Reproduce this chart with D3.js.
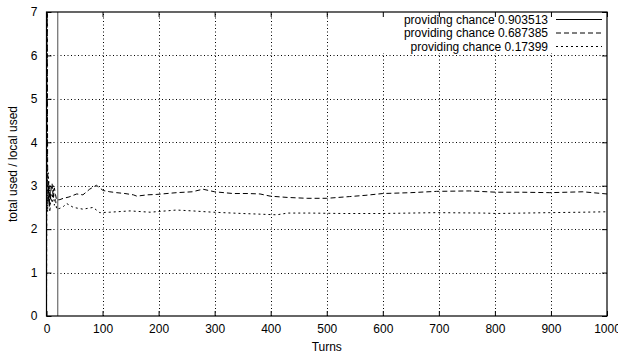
<!DOCTYPE html>
<html><head><meta charset="utf-8">
<script src="https://cdn.jsdelivr.net/npm/d3@7"></script>
<style>body{margin:0;background:#fff}svg{display:block}text{font-family:"Liberation Sans",Arial,sans-serif;font-size:12px;fill:#000}</style>
</head><body><svg id="c" width="618" height="354"></svg>
<script>
const xTicks=[0,100,200,300,400,500,600,700,800,900,1000];
const yTicks=[0,1,2,3,4,5,6,7];
const seriesNames=["providing chance 0.903513","providing chance 0.687385","providing chance 0.17399"];
// series 1 (solid)
const turnsA=[20,20];
const valuesA=[0,7.5];
// series 2 (dashed)
const turnsB=[0,1,2,3,4,5,6,7,8,10,12,14,16,18,24,30,40,54,65,77,89,101,113,125,140,155,161,180,197,232,260,279,300,333,360,381,399,430,465,500,541,570,600,650,696,755,803,850,898,957,1000];
const valuesB=[0,8,3.5,2.6,3.1,2.5,3.0,2.7,2.9,3.05,2.7,2.95,2.8,2.67,2.68,2.71,2.74,2.81,2.79,2.92,3.01,2.89,2.86,2.84,2.82,2.79,2.76,2.79,2.80,2.84,2.86,2.92,2.86,2.82,2.82,2.81,2.76,2.73,2.71,2.71,2.75,2.78,2.82,2.84,2.87,2.88,2.85,2.85,2.84,2.86,2.81];
// series 3 (dotted)
const turnsC=[0,1,2,3,4,5,6,8,10,12,14,16,18,24,30,36,48,65,83,95,113,149,185,232,260,297,350,411,430,470,530,600,696,780,803,850,898,957,1000];
const valuesC=[0,7.5,2.4,3.3,2.7,2.9,2.4,2.8,2.6,3.0,2.55,2.7,2.46,2.48,2.52,2.59,2.5,2.46,2.5,2.38,2.39,2.42,2.39,2.44,2.42,2.39,2.36,2.33,2.37,2.37,2.36,2.36,2.38,2.37,2.36,2.37,2.38,2.39,2.40];

const svg=d3.select("#c");
const L=46.5,R=607,T=12,B=316;
const x=d3.scaleLinear().domain([0,1000]).range([L,R]);
const y=d3.scaleLinear().domain([0,7]).range([B,T]);
const keyBottom=53, keyLeft=378;

// grid
const g=svg.append("g").attr("stroke","#000").attr("stroke-width",1).attr("stroke-dasharray","1,2.5").attr("fill","none");
xTicks.filter(v=>v>0&&v<1000).forEach(v=>{
  const px=Math.round(x(v))+0.5;
  const top = px>keyLeft ? keyBottom : T;
  g.append("line").attr("x1",px).attr("x2",px).attr("y1",B).attr("y2",top);
});
yTicks.filter(v=>v>0&&v<7).forEach(v=>{
  const py=Math.round(y(v))+0.5;
  g.append("line").attr("x1",L).attr("x2",R).attr("y1",py).attr("y2",py);
});

// clip
svg.append("clipPath").attr("id","cp").append("rect").attr("x",L).attr("y",T).attr("width",R-L).attr("height",B-T);

const line=d3.line().x(d=>x(d[0])).y(d=>y(d[1]));
const mk=(t,v)=>t.map((tt,i)=>[tt,v[i]]);
const pg=svg.append("g").attr("clip-path","url(#cp)").attr("fill","none");
pg.append("path").datum(mk(turnsA,valuesA)).attr("d",line).attr("stroke","#777").attr("stroke-width",1.3);
pg.append("path").datum(mk(turnsB,valuesB)).attr("d",line).attr("stroke","#000").attr("stroke-width",1).attr("stroke-dasharray","5,3");
pg.append("path").datum(mk(turnsC,valuesC)).attr("d",line).attr("stroke","#000").attr("stroke-width",1).attr("stroke-dasharray","2,3");

// border
svg.append("rect").attr("x",L).attr("y",T).attr("width",R-L).attr("height",B-T).attr("fill","none").attr("stroke","#000").attr("stroke-width",1.2);

// axes with inward ticks
const xa=d3.axisBottom(x).tickValues(xTicks).tickSize(-5).tickPadding(8).tickFormat(d3.format("d"));
const ya=d3.axisLeft(y).tickValues(yTicks).tickSize(-5).tickPadding(9).tickFormat(d3.format("d"));
const gx=svg.append("g").attr("transform",`translate(0,${B})`).call(xa);
const gy=svg.append("g").attr("transform",`translate(${L},0)`).call(ya);
const gx2=svg.append("g").attr("transform",`translate(0,${T})`).call(d3.axisTop(x).tickValues(xTicks).tickSize(-5).tickFormat(""));
const gy2=svg.append("g").attr("transform",`translate(${R},0)`).call(d3.axisRight(y).tickValues(yTicks).tickSize(-5).tickFormat(""));
[gx,gy,gx2,gy2].forEach(a=>{a.select(".domain").remove();a.selectAll("line").attr("stroke","#000");a.selectAll("text").attr("font-size",12).attr("font-family","Liberation Sans, Arial, sans-serif").attr("fill","#000");});

// labels
svg.append("text").attr("x",(L+R)/2).attr("y",351).attr("text-anchor","middle").text("Turns");
svg.append("text").attr("transform",`translate(17,${(T+B)/2}) rotate(-90)`).attr("text-anchor","middle").text("total used / local used");

// legend
const dashes=[null,"5,3","2,3"];
const colors=["#000","#000","#000"];
seriesNames.forEach((n,i)=>{
  const yy=19+i*13.5;
  svg.append("text").attr("x",548).attr("y",yy+4.5).attr("text-anchor","end").attr("font-size",12).text(n);
  const ln=svg.append("line").attr("x1",556).attr("x2",602).attr("y1",yy+0.5).attr("y2",yy+0.5).attr("stroke",colors[i]).attr("stroke-width",1);
  if(dashes[i]) ln.attr("stroke-dasharray",dashes[i]);
});
</script></body></html>
